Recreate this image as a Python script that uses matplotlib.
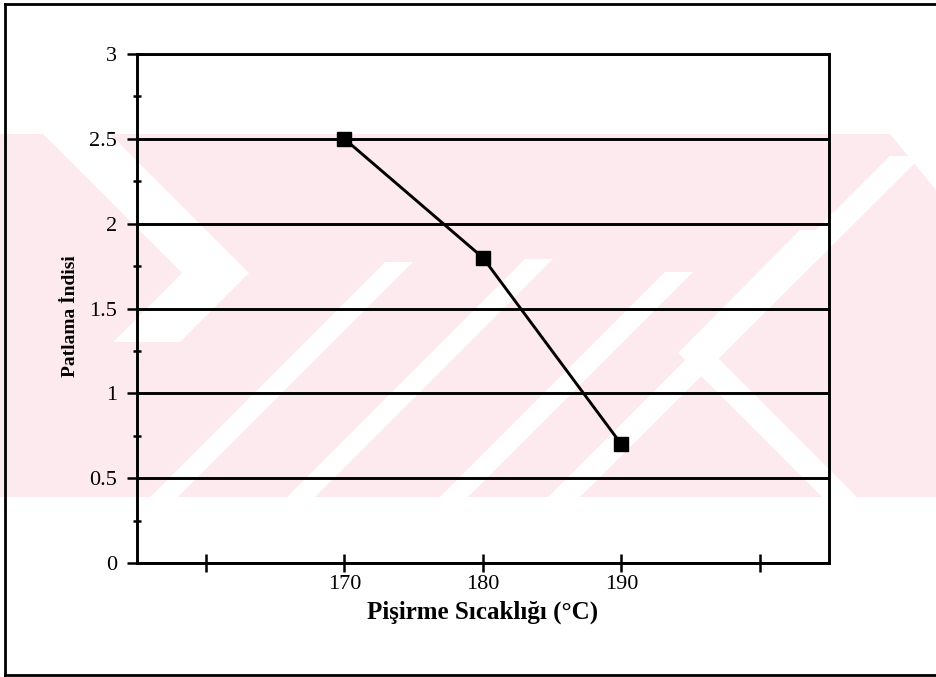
import matplotlib.pyplot as plt
from matplotlib.patches import Polygon
from matplotlib.lines import Line2D
from matplotlib.ticker import MultipleLocator

# data
temperatures = [170, 180, 190]
patlama_indisi = [2.5, 1.8, 0.7]
x_ticks = [160, 170, 180, 190, 200]
x_tick_labels = ['', '170', '180', '190', '']
y_ticks = [0, 0.5, 1, 1.5, 2, 2.5, 3]
y_tick_labels = ['0', '0.5', '1', '1.5', '2', '2.5', '3']

W, H = 936, 677
plt.rcParams['font.family'] = ['Liberation Serif', 'DejaVu Serif']
fig = plt.figure(figsize=(W / 100, H / 100), dpi=100)


def px(points):
    # pixel coords (y down) -> figure fraction
    return [(x / W, 1 - y / H) for x, y in points]


# faint pink watermark band behind the chart
pink = '#fdeaee'
top, bot = 134, 497
fig.add_artist(Polygon(px([(0, top), (890, top), (936, 190), (936, bot), (0, bot)]),
                       fc=pink, ec='none', zorder=0))
white_shapes = [
    # left ">" gap
    [(43, top), (110, top), (249, 273), (180, 342), (113, 342), (182, 273)],
    # "/" gaps
    [(150, bot), (178, bot), (413, 262), (385, 262)],
    [(287, bot), (315, bot), (553, 259), (525, 259)],
    [(440, bot), (468, bot), (693, 272), (665, 272)],
    [(548, bot), (580, bot), (922, 156), (890, 156)],
    # right "<" gap
    [(800, 230), (835, 230), (713, 353), (857, bot), (822, bot), (678, 353)],
]
for shape in white_shapes:
    fig.add_artist(Polygon(px(shape), fc='white', ec='none', zorder=0.5))

# outer frame of the scanned figure
for xs, ys in [([5, 936], [4, 4]), ([5, 5], [4, 675]), ([5, 936], [675, 675])]:
    pts = px(list(zip(xs, ys)))
    fig.add_artist(Line2D([p[0] for p in pts], [p[1] for p in pts],
                          color='black', lw=2, zorder=1))

ax = fig.add_axes([136.7 / W, 1 - 563 / H, (829 - 136.7) / W, (563 - 54) / H])
ax.set_zorder(2)
ax.set_facecolor('none')
ax.set_xlim(155, 205)
ax.set_ylim(0, 3)

ax.set_xticks(x_ticks)
ax.set_xticklabels(x_tick_labels)
ax.set_yticks(y_ticks)
ax.set_yticklabels(y_tick_labels)
ax.yaxis.set_minor_locator(MultipleLocator(0.25))

ax.tick_params(axis='y', which='major', direction='out', length=7, width=1.8,
               labelsize=16, pad=7, colors='black')
ax.tick_params(axis='y', which='minor', direction='inout', length=6, width=1.8)
ax.tick_params(axis='x', which='major', direction='inout', length=13, width=1.8,
               labelsize=16, pad=2)

ax.grid(axis='y', color='black', lw=2.1)
for s in ax.spines.values():
    s.set_linewidth(2.1)
    s.set_color('black')

ax.plot(temperatures, patlama_indisi, color='black', lw=2.1, marker='s', ms=10,
        mfc='black', mec='black', zorder=3, clip_on=False)

ax.set_xlabel('Pişirme Sıcaklığı (°C)', fontsize=18, fontweight='bold', labelpad=5)
ax.set_ylabel('Patlama İndisi', fontsize=14, fontweight='bold')
ax.yaxis.set_label_coords(-0.083, 0.485)

fig.savefig('out.png', dpi=100)
